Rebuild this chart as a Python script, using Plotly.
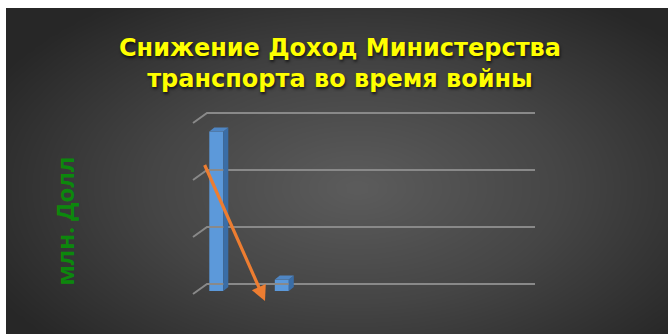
import numpy as np
import plotly.graph_objects as go

# ---- data -------------------------------------------------------------
cat_pos = [0, 1]                 # category slots along the x axis
revenue = [1400, 100]            # млн. долл
grid_values = [0, 500, 1000, 1500]

title_text = "Снижение Доход Министерства<br>транспорта во время войны"
y_title = "млн. Долл"

# ---- pseudo-3D projection settings (pixels of the 668x334 canvas) ------
W, H = 668, 334
PX_PER_CAT = 65.5                # horizontal pixels per category
PX_PER_500 = 57.0                # vertical pixels per 500 units
ORIGIN_X, ORIGIN_Y = 216.3, 291  # pixel of (cat 0, value 0) on the bar front plane


def dx(px):
    return px / PX_PER_CAT


def dv(px):
    return px * 500.0 / PX_PER_500


bar_w = dx(14)
depth_x, depth_v = dx(5), dv(4)          # bar depth
back_x, back_v = dx(9.8), dv(7)          # wall plane behind the bars
front_x, front_v = dx(-4.2), dv(-3)      # floor front edge
x_left, x_right = dx(197.2 - ORIGIN_X), dx(525.2 - ORIGIN_X)

x_range = [dx(0 - ORIGIN_X), dx(W - ORIGIN_X)]
y_range = [dv(ORIGIN_Y - H), dv(ORIGIN_Y - 0)]

fig = go.Figure()

# ---- radial background --------------------------------------------------
nx, ny = 80, 40
gx = np.linspace(0, 1, nx)
gy = np.linspace(0, 1, ny)
X, Y = np.meshgrid(gx, gy)
cx, cy = 0.53, 0.45
r = np.sqrt(((X - cx) / 0.62) ** 2 + ((Y - cy) / 0.70) ** 2)
fig.add_trace(go.Heatmap(
    x=gx, y=gy, z=np.clip(r, 0, 1), zmin=0, zmax=1, zsmooth="best",
    colorscale=[[0, "#5c5c5c"], [0.5, "#454545"], [1, "#272727"]],
    showscale=False, hoverinfo="skip", xaxis="x", yaxis="y",
))

# ---- gridlines: back wall lines plus the short floor-depth stubs --------
gxs, gys = [], []
for v in grid_values:
    gxs += [x_left + front_x, x_left + back_x, x_right + back_x, None]
    gys += [v + front_v, v + back_v, v + back_v, None]
fig.add_trace(go.Scatter(
    x=gxs, y=gys, mode="lines", line=dict(color="#898989", width=2),
    hoverinfo="skip", showlegend=False, xaxis="x2", yaxis="y2",
))

# ---- bars: front faces ---------------------------------------------------
fig.add_trace(go.Bar(
    x=cat_pos, y=revenue, width=bar_w, base=0,
    marker=dict(color="#5c99da", line=dict(width=0)),
    hoverinfo="skip", showlegend=False, xaxis="x2", yaxis="y2",
))

# ---- bars: side and top faces -------------------------------------------
for c, v in zip(cat_pos, revenue):
    xr = c + bar_w / 2
    xl = c - bar_w / 2
    fig.add_trace(go.Scatter(
        x=[xr, xr + depth_x, xr + depth_x, xr, xr],
        y=[0, depth_v, v + depth_v, v, 0],
        fill="toself", fillcolor="#3a6da6", mode="lines",
        line=dict(width=0, color="#3a6da6"),
        hoverinfo="skip", showlegend=False, xaxis="x2", yaxis="y2",
    ))
    fig.add_trace(go.Scatter(
        x=[xl, xl + depth_x, xr + depth_x, xr, xl],
        y=[v, v + depth_v, v + depth_v, v, v],
        fill="toself", fillcolor="#4f86c4", mode="lines",
        line=dict(width=0, color="#4f86c4"),
        hoverinfo="skip", showlegend=False, xaxis="x2", yaxis="y2",
    ))

# ---- decline arrow ------------------------------------------------------
fig.add_annotation(
    x=dx(265 - ORIGIN_X), y=dv(ORIGIN_Y - 301),
    ax=dx(204 - ORIGIN_X), ay=dv(ORIGIN_Y - 163.5),
    xref="x2", yref="y2", axref="x2", ayref="y2",
    text="", showarrow=True, arrowhead=2, arrowsize=0.95,
    arrowwidth=3.2, arrowcolor="#ed7d31", standoff=0,
)

# ---- axis title ---------------------------------------------------------
fig.add_annotation(
    x=64 / W, y=1 - 221.5 / H, xref="paper", yref="paper",
    xanchor="center", yanchor="middle",
    text=y_title, textangle=-90, showarrow=False,
    font=dict(family="Open Sans", size=24, color="#0c880c", weight="bold"),
)

hidden = dict(visible=False, showgrid=False, zeroline=False, fixedrange=True)
fig.update_layout(
    width=W, height=H,
    margin=dict(l=0, r=0, t=0, b=0),
    paper_bgcolor="#ffffff",
    plot_bgcolor="rgba(0,0,0,0)",
    hovermode=False,
    showlegend=False,
    title=dict(
        text=title_text, x=340 / W, xanchor="center",
        y=1 - 56 / H, yanchor="top",
        font=dict(family="DejaVu Sans", size=24, color="#ffff00", weight="bold",
                  shadow="1px 2px 3px rgba(0,0,0,0.7)"),
    ),
    xaxis=dict(domain=[6 / W, 1], range=[0, 1], **hidden),
    yaxis=dict(domain=[0, 1 - 8 / H], range=[0, 1], **hidden),
    xaxis2=dict(domain=[0, 1], range=x_range, anchor="y2", **hidden),
    yaxis2=dict(domain=[0, 1], range=y_range, anchor="x2", **hidden),
    barmode="overlay",
)

fig.write_html("out.html", config={"displayModeBar": False})
